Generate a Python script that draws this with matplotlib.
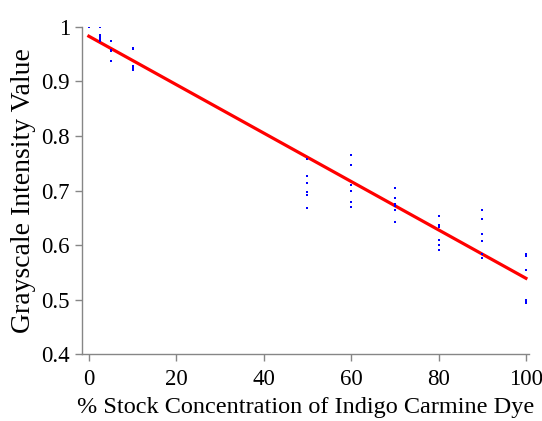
import matplotlib
matplotlib.use("Agg")
import matplotlib.pyplot as plt
import numpy as np

# concentrations (% stock) and measured grayscale values
conc = [0, 0, 0,
        2.5, 2.5, 2.5, 2.5, 2.5,
        5, 5, 5, 5,
        10, 10, 10, 10, 10,
        50, 50, 50, 50, 50, 50,
        60, 60, 60, 60, 60, 60,
        70, 70, 70, 70, 70, 70,
        80, 80, 80, 80, 80, 80,
        90, 90, 90, 90, 90, 90,
        100, 100, 100, 100, 100, 100]
gray = [1.0, 1.0, 1.0,
        1.0, 0.986, 0.981, 0.977, 0.974,
        0.974, 0.958, 0.955, 0.938,
        0.961, 0.959, 0.929, 0.925, 0.921,
        0.757, 0.727, 0.714, 0.697, 0.692, 0.668,
        0.766, 0.746, 0.710, 0.700, 0.678, 0.670,
        0.704, 0.686, 0.676, 0.672, 0.665, 0.643,
        0.654, 0.636, 0.633, 0.609, 0.600, 0.590,
        0.664, 0.648, 0.621, 0.608, 0.583, 0.577,
        0.583, 0.580, 0.554, 0.500, 0.497, 0.494]

# fitted trend line endpoints
fit_x = [0, 100]
fit_y = [0.983, 0.539]

plt.rcParams['font.family'] = ['Liberation Serif', 'DejaVu Serif']

fig = plt.figure(figsize=(5.42, 4.21), dpi=100)
ax = fig.add_axes([0.151, 0.159, 0.825, 0.777])

ax.plot(conc, gray, 's', color='#0000ff', markersize=2.1, markeredgewidth=0, zorder=3)
ax.plot(fit_x, fit_y, '-', color='#ff0000', linewidth=2.3, zorder=2)

ax.set_xlim(-1.6, 100.7)
ax.set_ylim(0.4, 1.0)
ax.set_xticks([0, 20, 40, 60, 80, 100])
ax.set_yticks([0.4, 0.5, 0.6, 0.7, 0.8, 0.9, 1.0])
ax.set_yticklabels(['0.4', '0.5', '0.6', '0.7', '0.8', '0.9', '1'])

for s in ['top', 'right']:
    ax.spines[s].set_visible(False)
for s in ['left', 'bottom']:
    ax.spines[s].set_color('#868686')
    ax.spines[s].set_linewidth(1.0)
ax.tick_params(axis='both', colors='#868686', labelcolor='black', labelsize=16.5,
               length=5, width=1.0, direction='out')
ax.tick_params(axis='x', pad=6)

ax.set_xlabel('% Stock Concentration of Indigo Carmine Dye', fontsize=17.5, labelpad=5)
ax.set_ylabel('Grayscale Intensity Value', fontsize=20, labelpad=4)

fig.savefig('out.png', dpi=100)
